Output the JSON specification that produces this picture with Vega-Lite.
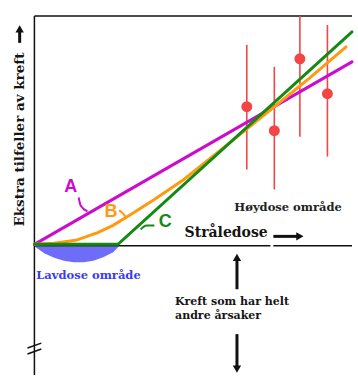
{
  "$schema": "https://vega.github.io/schema/vega-lite/v6.json",
  "width": 358,
  "height": 376,
  "padding": 0,
  "autosize": {"type": "fit", "contains": "padding"},
  "config": {"view": {"stroke": null}},
  "background": "white",
  "datasets": {
    "low": [
      {"x": 0, "top": -0.2, "bottom": -0.2},
      {"x": 1, "top": -0.2, "bottom": -0.9},
      {"x": 2, "top": -0.2, "bottom": -1.35},
      {"x": 3, "top": -0.2, "bottom": -1.65},
      {"x": 4, "top": -0.2, "bottom": -1.8},
      {"x": 5, "top": -0.2, "bottom": -1.8},
      {"x": 6, "top": -0.2, "bottom": -1.65},
      {"x": 7, "top": -0.2, "bottom": -1.3},
      {"x": 8, "top": -0.2, "bottom": -0.8},
      {"x": 8.6, "top": -0.2, "bottom": -0.2}
    ],
    "frame": [
      {"x": 0, "y": 22.9, "x2": 32.3, "y2": 22.9},
      {"x": 0, "y": 22.9, "x2": 0, "y2": -13.1},
      {"x": 0, "y": -0.15, "x2": 24.0, "y2": -0.15},
      {"x": 24.3, "y": -0.15, "x2": 32.3, "y2": -0.15},
      {"x": -0.7, "y": -10.4, "x2": 0.7, "y2": -9.9},
      {"x": -0.7, "y": -11.0, "x2": 0.7, "y2": -10.5}
    ],
    "points": [
      {"dose": 21.6, "v": 13.8, "lo": 7.5, "hi": 20.0},
      {"dose": 24.4, "v": 11.4, "lo": 5.5, "hi": 17.8},
      {"dose": 27.0, "v": 18.6, "lo": 10.8, "hi": 22.9},
      {"dose": 29.8, "v": 15.1, "lo": 8.8, "hi": 22.0}
    ],
    "curves": [
      {"s": "A", "o": 0, "x": 0, "y": 0},
      {"s": "A", "o": 1, "x": 32.3, "y": 18.3},
      {"s": "B", "o": 0, "x": 0, "y": 0},
      {"s": "B", "o": 1, "x": 2, "y": 0.1},
      {"s": "B", "o": 2, "x": 4.2, "y": 0.4},
      {"s": "B", "o": 3, "x": 6.5, "y": 1.2},
      {"s": "B", "o": 4, "x": 8, "y": 1.9},
      {"s": "B", "o": 5, "x": 9.8, "y": 3.0},
      {"s": "B", "o": 6, "x": 12.2, "y": 4.5},
      {"s": "B", "o": 7, "x": 15.2, "y": 6.5},
      {"s": "B", "o": 8, "x": 20, "y": 10.3},
      {"s": "B", "o": 9, "x": 24.4, "y": 13.8},
      {"s": "B", "o": 10, "x": 28, "y": 16.7},
      {"s": "B", "o": 11, "x": 31.7, "y": 19.8},
      {"s": "C", "o": 0, "x": 0, "y": 0},
      {"s": "C", "o": 1, "x": 8.5, "y": 0},
      {"s": "C", "o": 2, "x": 32.3, "y": 21.3}
    ],
    "leaders": [
      {"s": "A", "o": 0, "x": 4.5, "y": 4.7},
      {"s": "A", "o": 1, "x": 4.7, "y": 3.9},
      {"s": "A", "o": 2, "x": 5.4, "y": 3.3},
      {"s": "B", "o": 0, "x": 8.6, "y": 3.4},
      {"s": "B", "o": 1, "x": 9.0, "y": 3.1},
      {"s": "B", "o": 2, "x": 9.3, "y": 2.7},
      {"s": "C", "o": 0, "x": 10.8, "y": 1.5},
      {"s": "C", "o": 1, "x": 11.4, "y": 1.9},
      {"s": "C", "o": 2, "x": 12.2, "y": 1.9}
    ],
    "letters": [
      {"s": "A", "x": 3.7, "y": 5.8},
      {"s": "B", "x": 7.8, "y": 3.2},
      {"s": "C", "x": 13.3, "y": 2.2}
    ],
    "arrows": [
      {"x": 24.3, "y": 0.8, "x2": 26.8, "y2": 0.8},
      {"x": 20.6, "y": -1.6, "x2": 20.6, "y2": -4.5},
      {"x": 20.6, "y": -9.0, "x2": 20.6, "y2": -12.2},
      {"x": -1.5, "y": 21.3, "x2": -1.5, "y2": 20.2}
    ],
    "heads": [
      {"x": 27.0, "y": 0.8, "dir": "right"},
      {"x": 20.6, "y": -1.3, "dir": "up"},
      {"x": 20.6, "y": -12.5, "dir": "down"},
      {"x": -1.5, "y": 21.6, "dir": "up"}
    ],
    "labels": [
      {"t": "Stråledose", "x": 19.5, "y": 1.1, "k": "big"},
      {"t": "Høydose område", "x": 25.8, "y": 3.6, "k": "small"},
      {"t": "Kreft som har helt", "x": 14.3, "y": -5.8, "k": "left"},
      {"t": "andre årsaker", "x": 14.3, "y": -7.2, "k": "left"}
    ]
  },
  "layer": [
    {
      "data": {"name": "low"},
      "mark": {"type": "area", "color": "#4848f8", "opacity": 0.8},
      "encoding": {
        "x": {"field": "x", "type": "quantitative", "scale": {"domain": [-3.5, 32.3], "nice": false, "zero": false}, "axis": null},
        "y": {"field": "bottom", "type": "quantitative", "scale": {"domain": [-13.1, 24.5], "nice": false, "zero": false}, "axis": null},
        "y2": {"field": "top"}
      }
    },
    {
      "data": {"name": "frame"},
      "mark": {"type": "rule", "color": "#111111", "strokeWidth": 1.5},
      "encoding": {
        "x": {"field": "x", "type": "quantitative"},
        "y": {"field": "y", "type": "quantitative"},
        "x2": {"field": "x2"},
        "y2": {"field": "y2"}
      }
    },
    {
      "data": {"name": "points"},
      "mark": {"type": "rule", "color": "#f04848", "strokeWidth": 1.6},
      "encoding": {
        "x": {"field": "dose", "type": "quantitative"},
        "y": {"field": "lo", "type": "quantitative"},
        "y2": {"field": "hi"}
      }
    },
    {
      "data": {"name": "curves"},
      "mark": {"type": "line", "strokeWidth": 3, "strokeCap": "round"},
      "encoding": {
        "x": {"field": "x", "type": "quantitative"},
        "y": {"field": "y", "type": "quantitative"},
        "order": {"field": "o"},
        "color": {"field": "s", "type": "nominal", "scale": {"domain": ["A", "B", "C"], "range": ["#cc0ccc", "#ff9a10", "#138a13"]}, "legend": null}
      }
    },
    {
      "data": {"name": "points"},
      "mark": {"type": "point", "filled": true, "size": 120, "color": "#f24545", "opacity": 1},
      "encoding": {
        "x": {"field": "dose", "type": "quantitative"},
        "y": {"field": "v", "type": "quantitative"}
      }
    },
    {
      "data": {"name": "leaders"},
      "mark": {"type": "line", "strokeWidth": 2, "interpolate": "monotone"},
      "encoding": {
        "x": {"field": "x", "type": "quantitative"},
        "y": {"field": "y", "type": "quantitative"},
        "order": {"field": "o"},
        "color": {"field": "s", "type": "nominal", "legend": null}
      }
    },
    {
      "data": {"name": "letters"},
      "mark": {"type": "text", "font": "Liberation Sans", "fontWeight": "bold", "fontSize": 18, "baseline": "middle", "align": "center"},
      "encoding": {
        "x": {"field": "x", "type": "quantitative"},
        "y": {"field": "y", "type": "quantitative"},
        "text": {"field": "s"},
        "color": {"field": "s", "type": "nominal", "legend": null}
      }
    },
    {
      "data": {"name": "arrows"},
      "mark": {"type": "rule", "color": "#111111", "strokeWidth": 3},
      "encoding": {
        "x": {"field": "x", "type": "quantitative"},
        "y": {"field": "y", "type": "quantitative"},
        "x2": {"field": "x2"},
        "y2": {"field": "y2"}
      }
    },
    {
      "data": {"name": "heads"},
      "mark": {"type": "point", "filled": true, "size": 70, "color": "#111111", "opacity": 1},
      "encoding": {
        "x": {"field": "x", "type": "quantitative"},
        "y": {"field": "y", "type": "quantitative"},
        "shape": {"field": "dir", "type": "nominal", "scale": {"domain": ["up", "down", "right"], "range": ["triangle-up", "triangle-down", "triangle-right"]}, "legend": null}
      }
    },
    {
      "data": {"name": "labels"},
      "transform": [{"filter": "datum.k == 'big'"}],
      "mark": {"type": "text", "font": "DejaVu Serif", "fontWeight": "bold", "fontSize": 14, "color": "#151515", "baseline": "middle", "align": "center"},
      "encoding": {
        "x": {"field": "x", "type": "quantitative"},
        "y": {"field": "y", "type": "quantitative"},
        "text": {"field": "t"}
      }
    },
    {
      "data": {"name": "labels"},
      "transform": [{"filter": "datum.k == 'small'"}],
      "mark": {"type": "text", "font": "DejaVu Serif", "fontWeight": "bold", "fontSize": 11.5, "color": "#222222", "baseline": "middle", "align": "center"},
      "encoding": {
        "x": {"field": "x", "type": "quantitative"},
        "y": {"field": "y", "type": "quantitative"},
        "text": {"field": "t"}
      }
    },
    {
      "data": {"name": "labels"},
      "transform": [{"filter": "datum.k == 'left'"}],
      "mark": {"type": "text", "font": "DejaVu Serif", "fontWeight": "bold", "fontSize": 11, "color": "#151515", "baseline": "middle", "align": "left"},
      "encoding": {
        "x": {"field": "x", "type": "quantitative"},
        "y": {"field": "y", "type": "quantitative"},
        "text": {"field": "t"}
      }
    },
    {
      "data": {"values": [{"t": "Lavdose område", "x": 5.5, "y": -3.2}]},
      "mark": {"type": "text", "font": "DejaVu Serif", "fontWeight": "bold", "fontSize": 11.5, "color": "#3a3af5", "baseline": "middle", "align": "center"},
      "encoding": {
        "x": {"field": "x", "type": "quantitative"},
        "y": {"field": "y", "type": "quantitative"},
        "text": {"field": "t"}
      }
    },
    {
      "data": {"values": [{"t": "Ekstra tilfeller av kreft", "x": -1.5, "y": 10.5}]},
      "mark": {"type": "text", "font": "DejaVu Serif", "fontWeight": "bold", "fontSize": 13.5, "color": "#151515", "baseline": "middle", "align": "center", "angle": 270},
      "encoding": {
        "x": {"field": "x", "type": "quantitative"},
        "y": {"field": "y", "type": "quantitative"},
        "text": {"field": "t"}
      }
    }
  ]
}
